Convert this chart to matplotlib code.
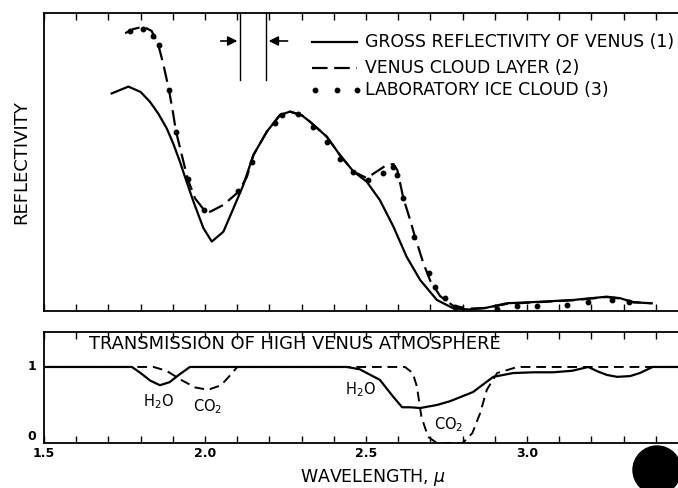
import matplotlib.pyplot as plt
import numpy as np
from matplotlib.patches import Ellipse

# gross reflectivity of Venus (1)
wl_venus = [1.710, 1.762, 1.800, 1.829, 1.855, 1.881, 1.902, 1.922, 1.944, 1.964,
            1.995, 2.021, 2.057, 2.088, 2.119, 2.150, 2.192, 2.233, 2.264, 2.300,
            2.326, 2.378, 2.419, 2.461, 2.502, 2.543, 2.585, 2.626, 2.668, 2.720,
            2.771, 2.82, 2.87, 2.937, 3.04, 3.143, 3.247, 3.289, 3.33, 3.387]
refl_venus = [0.730, 0.753, 0.735, 0.702, 0.662, 0.613, 0.560, 0.501, 0.430, 0.367,
              0.278, 0.233, 0.266, 0.344, 0.423, 0.523, 0.602, 0.658, 0.669, 0.657,
              0.635, 0.585, 0.523, 0.468, 0.434, 0.372, 0.283, 0.182, 0.104, 0.037,
              0.009, 0.005, 0.010, 0.026, 0.031, 0.037, 0.048, 0.043, 0.029, 0.026]

# Venus cloud layer (2)
wl_cloud = [1.752, 1.777, 1.808, 1.834, 1.855, 1.871, 1.888, 1.900, 1.910, 1.928,
            1.946, 1.969, 1.997, 2.016, 2.057, 2.104, 2.13, 2.150, 2.192, 2.233,
            2.264, 2.300, 2.326, 2.378, 2.419, 2.461, 2.502, 2.533, 2.564, 2.585,
            2.597, 2.616, 2.637, 2.652, 2.678, 2.70, 2.73, 2.77, 2.82, 2.87,
            2.937, 3.04, 3.143, 3.247, 3.289, 3.33, 3.387]
refl_cloud = [0.932, 0.946, 0.954, 0.940, 0.893, 0.826, 0.742, 0.669, 0.602, 0.523,
              0.443, 0.378, 0.339, 0.333, 0.356, 0.400, 0.450, 0.523, 0.602, 0.658,
              0.669, 0.657, 0.635, 0.585, 0.523, 0.468, 0.446, 0.468, 0.490, 0.493,
              0.473, 0.378, 0.305, 0.249, 0.160, 0.100, 0.050, 0.018, 0.008, 0.010,
              0.024, 0.030, 0.036, 0.047, 0.042, 0.030, 0.026]

# laboratory ice cloud (3)
wl_ice = [1.767, 1.808, 1.839, 1.856, 1.888, 1.910, 1.946, 1.997, 2.103, 2.145,
          2.218, 2.238, 2.290, 2.336, 2.378, 2.419, 2.461, 2.507, 2.552, 2.583,
          2.597, 2.616, 2.649, 2.694, 2.714, 2.745, 2.776, 2.906, 2.968, 3.030,
          3.123, 3.19, 3.263, 3.315]
refl_ice = [0.938, 0.946, 0.924, 0.893, 0.742, 0.602, 0.443, 0.339, 0.403, 0.501,
            0.630, 0.658, 0.661, 0.616, 0.568, 0.510, 0.468, 0.440, 0.462, 0.482,
            0.456, 0.378, 0.247, 0.126, 0.082, 0.043, 0.015, 0.006, 0.017, 0.018,
            0.020, 0.031, 0.037, 0.029]

# transmission of high Venus atmosphere
wl_h2o = [1.5, 1.773, 1.80, 1.83, 1.86, 1.89, 1.92, 1.953, 2.44, 2.48, 2.543,
          2.584, 2.612, 2.637, 2.668, 2.72, 2.761, 2.832, 2.895, 2.957, 3.02,
          3.081, 3.14, 3.19, 3.22, 3.248, 3.28, 3.32, 3.35, 3.39, 3.5]
tr_h2o = [1.0, 1.0, 0.92, 0.82, 0.76, 0.80, 0.90, 1.0, 1.0, 0.97, 0.83,
          0.61, 0.47, 0.47, 0.46, 0.50, 0.55, 0.67, 0.87, 0.92, 0.93,
          0.93, 0.95, 1.0, 0.94, 0.895, 0.87, 0.88, 0.92, 1.0, 1.0]
wl_co2 = [1.5, 1.84, 1.88, 1.93, 1.97, 2.01, 2.05, 2.08, 2.10, 2.621, 2.645,
          2.658, 2.672, 2.693, 2.72, 2.80, 2.83, 2.854, 2.875, 2.907, 2.97, 3.5]
tr_co2 = [1.0, 1.0, 0.95, 0.82, 0.73, 0.70, 0.76, 0.90, 1.0, 1.0, 0.92,
          0.74, 0.34, 0.08, 0.0, 0.0, 0.13, 0.39, 0.70, 0.92, 1.0, 1.0]

xtick_pos = np.arange(1.5, 3.51, 0.1)
xtick_lab = {1.5: '1.5', 2.0: '2.0', 2.5: '2.5', 3.0: '3.0'}

fig = plt.figure(figsize=(6.78, 4.88), dpi=100)
ax1 = fig.add_axes([0.0649, 0.3627, 0.95, 0.6107])
ax2 = fig.add_axes([0.0649, 0.0922, 0.95, 0.2275])

# top panel
ax1.plot(wl_venus, refl_venus, color='black', lw=1.6)
ax1.plot(wl_cloud, refl_cloud, color='black', lw=1.6, linestyle=(0, (7, 3)))
ax1.plot(wl_ice, refl_ice, 'o', color='black', ms=3.2)

# resolution marker
for xv in [2.109, 2.189]:
    ax1.plot([xv, xv], [0.775, 1.0], color='black', lw=1.0)
ax1.annotate('', xy=(2.109, 0.906), xytext=(2.04, 0.906),
             arrowprops=dict(arrowstyle='-|>', color='black', lw=1.2, mutation_scale=14))
ax1.annotate('', xy=(2.189, 0.906), xytext=(2.265, 0.906),
             arrowprops=dict(arrowstyle='-|>', color='black', lw=1.2, mutation_scale=14))

# legend drawn by hand
ax1.plot([2.332, 2.472], [0.903, 0.903], color='black', lw=1.6)
ax1.plot([2.332, 2.472], [0.815, 0.815], color='black', lw=1.6, linestyle=(0, (7, 3)))
ax1.plot([2.34, 2.41, 2.472], [0.742, 0.742, 0.742], 'o', color='black', ms=3.2)
legend_labels = ['GROSS REFLECTIVITY OF VENUS (1)', 'VENUS CLOUD LAYER (2)',
                 'LABORATORY ICE CLOUD (3)']
for lab, yv in zip(legend_labels, [0.903, 0.815, 0.742]):
    ax1.text(2.497, yv, lab, fontsize=12.4, va='center', ha='left')

ax1.set_xlim(1.5, 3.5)
ax1.set_ylim(0, 1)
ax1.set_xticks(xtick_pos)
ax1.set_yticks([])
ax1.tick_params(axis='x', direction='in', top=True, bottom=True, length=5,
                labelbottom=False, width=1.0)
ax1.set_ylabel('REFLECTIVITY', fontsize=13, labelpad=10)

# bottom panel
ax2.plot(wl_h2o, tr_h2o, color='black', lw=1.6)
ax2.plot(wl_co2, tr_co2, color='black', lw=1.4, linestyle=(0, (5, 3)))
ax2.text(1.639, 1.30, 'TRANSMISSION OF HIGH VENUS ATMOSPHERE', fontsize=12.9,
         va='center', ha='left')
ax2.text(1.855, 0.54, 'H$_2$O', fontsize=10.5, ha='center', va='center')
ax2.text(2.007, 0.48, 'CO$_2$', fontsize=10.5, ha='center', va='center')
ax2.text(2.482, 0.70, 'H$_2$O', fontsize=10.5, ha='center', va='center')
ax2.text(2.757, 0.24, 'CO$_2$', fontsize=10.5, ha='center', va='center')

ax2.set_xlim(1.5, 3.5)
ax2.set_ylim(0, 1.46)
ax2.set_xticks(xtick_pos)
ax2.set_xticklabels([xtick_lab.get(round(v, 1), '') for v in xtick_pos],
                    fontsize=9, fontweight='bold')
ax2.set_yticks([])
ytr = ax2.get_yaxis_transform()
ax2.text(-0.012, 1.0, '1', transform=ytr, fontsize=9, fontweight='bold',
         ha='right', va='center')
ax2.text(-0.012, 0.08, '0', transform=ytr, fontsize=9, fontweight='bold',
         ha='right', va='center')
ax2.tick_params(axis='x', direction='in', top=True, bottom=True, length=5, width=1.0, pad=3)
fig.text(373 / 678, 1 - 478 / 488, r'WAVELENGTH, $\mu$', fontsize=12.5,
         ha='center', va='center')

for ax in (ax1, ax2):
    for sp in ax.spines.values():
        sp.set_linewidth(1.3)

# black dot in the lower right corner of the scan
fig.add_artist(Ellipse((657 / 678, 1 - 470 / 488), 48 / 678, 48 / 488,
                       transform=fig.transFigure, color='black'))

fig.savefig('out.png', dpi=100)
